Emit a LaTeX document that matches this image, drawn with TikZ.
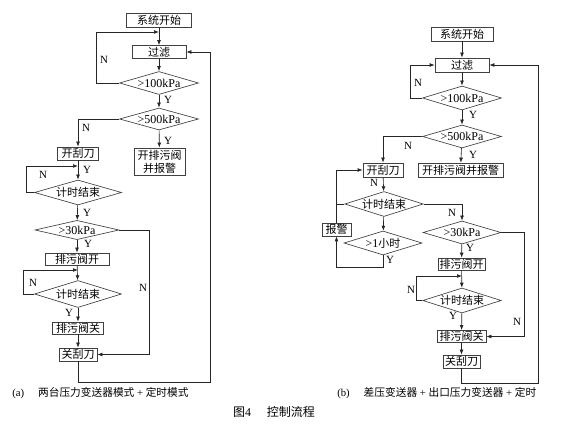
\documentclass[tikz,border=0pt]{standalone}
\usepackage{fontspec}
\setmainfont{Liberation Serif}
\newfontfamily\cjk{Noto Sans CJK SC}
\usetikzlibrary{shapes.geometric,arrows.meta}
\begin{document}
\begin{tikzpicture}[x=1pt,y=-1pt,
  line width=0.65pt, draw=black!85,
  box/.style={draw=black!75, rectangle, inner sep=0pt, font=\cjk\fontsize{11}{13}\selectfont, align=center},
  dia/.style={draw=black!75, diamond, aspect=3.4, inner sep=0pt, font=\fontsize{12}{13}\selectfont},
  arr/.style={-{Latex[length=5pt,width=3.8pt]}},
  lbl/.style={font=\fontsize{11}{12}\selectfont, inner sep=0pt},
  captext/.style={font=\fontsize{10.7}{12}\selectfont, inner sep=0pt, anchor=west}]
\useasboundingbox[fill=white] (0,0) rectangle (573,427);

% ---------------- (a) ----------------
\node[box, minimum width=65pt, minimum height=14pt] (a1) at (159,20) {系统开始};
\node[box, minimum width=54pt, minimum height=13pt] (a2) at (159,52) {过滤};
\node[dia, minimum width=79pt, minimum height=23pt] (a3) at (159,83) {>100kPa};
\node[dia, minimum width=79pt, minimum height=22pt] (a4) at (159,119) {>500kPa};
\node[box, minimum width=51pt, minimum height=27pt] (a5) at (159.5,161.5) {开排污阀\\并报警};
\node[box, minimum width=41pt, minimum height=13pt] (a6) at (78,153.5) {开刮刀};
\node[dia, minimum width=87pt, minimum height=25pt] (a7) at (78,192.5) {\cjk\fontsize{11}{13}\selectfont 计时结束};
\node[dia, minimum width=84pt, minimum height=19pt] (a8) at (77,230) {>30kPa};
\node[box, minimum width=64pt, minimum height=12pt] (a9) at (77,259) {排污阀开};
\node[dia, minimum width=87pt, minimum height=27pt] (a10) at (78,294) {\cjk\fontsize{11}{13}\selectfont 计时结束};
\node[box, minimum width=51pt, minimum height=12pt] (a11) at (78,328) {排污阀关};
\node[box, minimum width=38pt, minimum height=13pt] (a12) at (78,354.5) {关刮刀};

\coordinate (ja1) at (159,32);
\coordinate (ja2) at (78,166);
\coordinate (ja3) at (78,270);

\draw[arr] (a1) -- (a2);
\draw[arr] (a2) -- (a3);
\draw[arr] (a3.west) -- ++(-23,0) |- (ja1);
\draw[arr] (a3) -- (a4);
\draw[arr] (a4) -- (a5);
\draw[arr] (a4.west) -| (a6.north);
\draw[arr] (a6) -- (a7);
\draw[arr] (a7.west) -- ++(-8,0) |- (ja2);
\draw[arr] (a7) -- (a8);
\draw[arr] (a8.east) -- ++(30,0) |- (a12.east);
\draw[arr] (a8) -- (a9);
\draw[arr] (a9) -- (a10);
\draw[arr] (a10.west) -- ++(-11,0) |- (ja3);
\draw[arr] (a10) -- (a11);
\draw[arr] (a11) -- (a12);
\draw[arr] (a12.south) |- (210,382) |- (a2.east);

\node[lbl] (la1) at (104,60) {N};
\node[lbl] (la2) at (168,100) {Y};
\node[lbl] (la3) at (168,141) {Y};
\node[lbl] (la4) at (86,128) {N};
\node[lbl] (la5) at (87,170) {Y};
\node[lbl] (la6) at (43,175) {N};
\node[lbl] (la7) at (87,213) {Y};
\node[lbl] (la8) at (143,288) {N};
\node[lbl] (la9) at (88,244) {Y};
\node[lbl] (la10) at (33,283) {N};
\node[lbl] (la11) at (69,313) {Y};

% ---------------- (b) ----------------
\node[box, minimum width=62pt, minimum height=14pt] (b1) at (462,34) {系统开始};
\node[box, minimum width=54pt, minimum height=14pt] (b2) at (462,65) {过滤};
\node[dia, minimum width=79pt, minimum height=24pt] (b3) at (462,98) {>100kPa};
\node[dia, minimum width=79pt, minimum height=23pt] (b4) at (462,136.5) {>500kPa};
\node[box, minimum width=85pt, minimum height=14pt] (b5) at (460.5,170) {开排污阀并报警};
\node[box, minimum width=40pt, minimum height=14pt] (b6) at (383,170) {开刮刀};
\node[dia, minimum width=78pt, minimum height=25pt] (b7) at (384,204) {\cjk\fontsize{11}{13}\selectfont 计时结束};
\node[box, minimum width=29pt, minimum height=13pt] (b8) at (336.5,229.5) {报警};
\node[dia, minimum width=78pt, minimum height=24pt] (b9) at (383,243) {>1{\cjk\fontsize{11}{13}\selectfont 小时}};
\node[dia, minimum width=78pt, minimum height=23pt] (b10) at (462,232.5) {>30kPa};
\node[box, minimum width=47pt, minimum height=12pt] (b11) at (461.5,264) {排污阀开};
\node[dia, minimum width=78pt, minimum height=25pt] (b12) at (462,300.5) {\cjk\fontsize{11}{13}\selectfont 计时结束};
\node[box, minimum width=49pt, minimum height=12pt] (b13) at (461.5,336.5) {排污阀关};
\node[box, minimum width=37pt, minimum height=13pt] (b14) at (461.5,361.5) {关刮刀};

\coordinate (jb1) at (462,276);

\draw[arr] (b1) -- (b2);
\draw[arr] (b2) -- (b3);
\draw[arr] (b3.west) -- ++(-12,0) |- (b2.west);
\draw[arr] (b3) -- (b4);
\draw[arr] (b4) -- (b5);
\draw[arr] (b4.west) -| (b6.north);
\draw[arr] (b6) -- (b7);
\draw (b7.west) -- (b8.north |- b7.west);
\draw[arr] (b8.north) |- (b6.west);
\draw[arr] (b7.east) -| (b10.north);
\draw[arr] (b7) -- (b9);
\draw[arr] (b9.south) -- ++(0,12) -| (b8.south);
\draw[arr] (b10.east) -- ++(23,0) |- (b13.east);
\draw[arr] (b10) -- (b11);
\draw[arr] (b11) -- (b12);
\draw[arr] (b12.west) -- ++(-6,0) |- (jb1);
\draw[arr] (b12) -- (b13);
\draw[arr] (b13) -- (b14);
\draw[arr] (b14.south) |- (538,383) |- (b2.east);

\node[lbl] (lb1) at (418,83) {N};
\node[lbl] (lb2) at (473,115) {Y};
\node[lbl] (lb3) at (473,155) {Y};
\node[lbl] (lb4) at (408,146) {N};
\node[lbl] (lb5) at (374,183) {N};
\node[lbl] (lb6) at (452,213) {N};
\node[lbl] (lb7) at (390,260) {Y};
\node[lbl] (lb8) at (517,322) {N};
\node[lbl] (lb9) at (470,248) {Y};
\node[lbl] (lb10) at (411,290) {N};
\node[lbl] (lb11) at (453,316) {Y};

% ---------------- captions ----------------
\node[captext] (ca) at (12,393) {(a)\hspace{1.3em}{\cjk 两台压力变送器模式} + {\cjk 定时模式}};
\node[captext] (cb) at (337,393) {(b)\hspace{1.3em}{\cjk 差压变送器} + {\cjk 出口压力变送器} + {\cjk 定时}};
\node[font=\fontsize{12}{13}\selectfont, inner sep=0pt] (cf) at (274,412) {{\cjk 图}4\hspace{1.3em}{\cjk 控制流程}};
\end{tikzpicture}
\end{document}
